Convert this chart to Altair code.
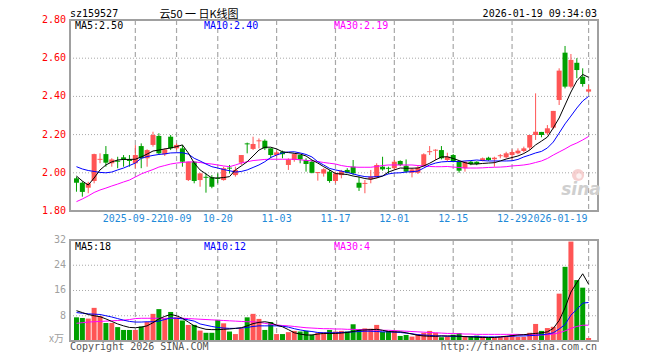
import altair as alt
import pandas as pd

# ---------------- data ----------------
opens = [1.971,1.948,1.922,1.957,2.068,2.098,2.050,2.063,2.081,2.070,
         2.050,2.140,2.076,2.146,2.193,2.097,2.189,2.128,2.128,1.962,
         2.058,1.962,1.979,1.977,1.973,1.962,2.027,1.988,2.053,2.154,
         2.125,2.165,2.168,2.128,2.093,2.110,2.041,2.067,2.093,2.067,
         2.058,1.999,1.997,2.006,1.957,1.988,2.015,2.032,1.948,1.942,
         1.966,1.976,2.032,2.026,2.024,2.062,2.037,2.000,2.000,2.036,
         2.108,2.116,2.119,2.067,2.093,2.058,2.024,2.058,2.058,2.063,
         2.079,2.071,2.087,2.081,2.093,2.102,2.114,2.132,2.198,2.214,
         2.207,2.236,2.381,2.629,2.451,2.576,2.503,2.425]
highs = [1.980,1.955,1.953,2.100,2.102,2.140,2.076,2.084,2.093,2.093,
         2.145,2.154,2.123,2.215,2.207,2.128,2.198,2.154,2.146,2.058,
         2.060,2.000,1.997,1.988,1.997,2.032,2.041,2.032,2.093,2.158,
         2.189,2.180,2.175,2.128,2.116,2.116,2.076,2.102,2.093,2.076,
         2.067,2.003,2.024,2.015,2.006,2.015,2.024,2.067,1.980,1.962,
         2.015,2.050,2.084,2.032,2.067,2.065,2.070,2.024,2.036,2.102,
         2.140,2.123,2.140,2.105,2.098,2.058,2.060,2.062,2.060,2.080,
         2.084,2.084,2.098,2.110,2.123,2.128,2.137,2.198,2.416,2.214,
         2.250,2.324,2.547,2.664,2.622,2.600,2.547,2.460]
lows = [1.901,1.875,1.893,1.945,2.050,2.032,2.032,2.024,2.032,2.032,
        2.024,2.024,2.032,2.137,2.093,2.088,2.119,2.119,2.032,1.957,
        1.945,1.927,1.896,1.919,1.945,1.959,1.997,1.980,2.041,2.102,
        2.119,2.128,2.119,2.076,2.084,2.076,2.015,2.058,2.050,2.006,
        1.997,1.959,1.980,1.948,1.945,1.971,1.997,1.988,1.905,1.893,
        1.945,1.971,2.011,1.994,2.015,2.035,2.000,1.976,1.994,2.032,
        2.093,2.067,2.070,2.058,2.055,2.000,2.006,2.040,2.040,2.060,
        2.063,2.032,2.076,2.076,2.070,2.097,2.107,2.119,2.172,2.186,
        2.198,2.228,2.355,2.442,2.442,2.495,2.451,2.419]
closes = [1.948,1.900,1.945,2.098,2.073,2.053,2.070,2.058,2.070,2.062,
          2.093,2.076,2.119,2.198,2.102,2.123,2.128,2.146,2.058,2.058,
          1.957,1.997,1.974,1.927,1.968,2.024,2.022,2.015,2.093,2.149,
          2.151,2.170,2.128,2.093,2.107,2.097,2.070,2.098,2.070,2.046,
          2.000,2.004,2.018,1.957,1.997,2.009,2.000,1.997,1.922,1.947,
          1.980,2.041,2.018,2.021,2.058,2.041,2.006,2.018,2.027,2.097,
          2.113,2.121,2.076,2.084,2.058,2.011,2.058,2.045,2.046,2.076,
          2.067,2.079,2.092,2.102,2.109,2.116,2.128,2.198,2.215,2.198,
          2.233,2.324,2.535,2.451,2.591,2.538,2.465,2.437]
ma5 = [1.983,1.957,1.936,1.973,2.015,2.041,2.057,2.067,2.070,2.070,
       2.071,2.083,2.098,2.114,2.119,2.125,2.130,2.137,2.146,2.104,
       2.051,2.015,1.994,1.973,1.973,1.975,1.980,2.015,2.036,2.058,
       2.088,2.119,2.134,2.134,2.125,2.110,2.106,2.102,2.098,2.088,
       2.067,2.051,2.032,2.015,1.996,1.994,1.991,1.983,1.978,1.970,
       1.966,1.973,1.983,2.004,2.015,2.025,2.024,2.024,2.025,2.036,
       2.050,2.067,2.083,2.084,2.075,2.064,2.053,2.046,2.046,2.049,
       2.051,2.053,2.062,2.072,2.080,2.088,2.101,2.119,2.146,2.166,
       2.187,2.235,2.287,2.355,2.423,2.481,2.515,2.500]
ma10 = [2.032,2.020,2.012,2.007,2.002,2.000,2.004,2.015,2.025,2.038,
        2.051,2.076,2.085,2.091,2.096,2.099,2.104,2.105,2.105,2.098,
        2.076,2.062,2.046,2.032,2.025,2.017,2.011,2.004,2.007,2.015,
        2.028,2.041,2.058,2.080,2.093,2.104,2.109,2.110,2.104,2.096,
        2.083,2.058,2.041,2.023,2.015,2.009,2.002,1.994,1.986,1.980,
        1.978,1.980,1.983,1.994,1.999,2.000,2.004,2.006,2.009,2.025,
        2.041,2.051,2.057,2.059,2.059,2.059,2.062,2.064,2.067,2.064,
        2.062,2.062,2.062,2.062,2.063,2.070,2.083,2.093,2.104,2.112,
        2.130,2.161,2.208,2.256,2.297,2.339,2.376,2.400]
ma30 = [1.849,1.863,1.879,1.897,1.910,1.920,1.931,1.941,1.952,1.962,
        1.978,1.994,2.006,2.017,2.030,2.038,2.046,2.051,2.054,2.057,
        2.057,2.054,2.049,2.046,2.041,2.036,2.032,2.041,2.051,2.058,
        2.064,2.067,2.070,2.071,2.071,2.071,2.071,2.071,2.068,2.065,
        2.063,2.059,2.054,2.050,2.046,2.038,2.033,2.030,2.029,2.029,
        2.029,2.033,2.038,2.041,2.041,2.041,2.041,2.041,2.038,2.036,
        2.033,2.032,2.032,2.033,2.030,2.028,2.025,2.025,2.025,2.026,
        2.028,2.029,2.030,2.032,2.036,2.038,2.041,2.046,2.054,2.062,
        2.075,2.093,2.109,2.125,2.143,2.156,2.172,2.190]
volumes = [7.5,7.3,7.1,10.5,7.9,5.7,5.7,4.4,3.5,3.5,
           3.5,4.6,6.0,8.6,10.1,7.2,9.2,7.5,6.5,5.1,
           5.1,3.3,2.6,2.6,6.7,5.6,3.0,2.2,4.0,7.5,
           8.6,7.0,3.5,6.0,2.2,2.2,2.8,3.2,3.0,3.2,
           2.0,2.6,2.7,3.5,3.0,3.2,3.0,5.3,3.5,4.0,
           3.9,5.1,2.9,3.2,3.2,1.6,1.9,1.4,2.2,2.6,
           3.2,2.6,1.2,1.4,2.0,2.5,1.5,1.4,1.7,1.5,
           1.2,1.1,1.3,1.5,2.0,1.3,1.3,2.6,5.4,3.2,
           4.1,4.5,15.0,23.5,31.5,19.3,16.9,0.95]
vma5 = [9.6,9.0,8.4,8.0,7.7,7.0,6.2,5.4,4.8,4.3,
        4.2,4.4,4.8,5.8,7.0,7.8,8.4,8.0,7.2,6.0,
        4.8,4.2,3.7,3.6,3.6,3.7,3.8,4.0,4.2,4.8,
        5.5,5.9,6.1,5.8,5.0,4.5,3.6,2.6,2.2,1.9,
        1.9,2.2,2.4,2.4,2.4,2.5,2.7,3.0,3.4,3.5,
        3.6,3.7,3.4,3.0,2.9,2.9,2.6,2.2,1.8,1.6,
        1.5,1.5,1.6,1.6,1.6,1.5,1.4,1.3,1.2,1.1,
        1.1,1.1,1.3,1.5,1.7,1.9,2.0,2.2,2.4,2.6,
        2.9,4.0,6.5,10.5,15.5,18.5,21.3,18.0]
vma10 = [9.0,8.8,8.6,8.5,8.4,8.0,7.6,7.1,6.6,6.2,
         6.0,6.0,6.1,6.1,6.3,6.8,7.3,7.2,7.0,6.7,
         6.3,5.4,5.0,4.6,4.3,4.1,4.0,4.0,4.1,4.3,
         4.6,4.8,4.8,4.8,4.8,4.7,4.4,3.9,3.5,3.2,
         3.0,2.7,2.6,2.6,2.6,2.7,2.8,2.9,3.0,3.1,
         3.1,3.0,2.9,2.9,2.8,2.7,2.5,2.3,2.0,1.9,
         1.8,1.6,1.6,1.5,1.5,1.5,1.4,1.4,1.4,1.3,
         1.3,1.3,1.3,1.4,1.5,1.6,1.6,1.7,1.8,2.0,
         2.2,2.6,3.8,5.2,8.2,10.0,12.0,12.2]
vma30 = [5.6,5.8,6.0,6.1,6.2,6.3,6.4,6.5,6.6,6.8,
         7.1,7.2,7.2,7.2,7.2,7.2,7.2,7.2,7.2,7.1,
         7.0,6.9,6.8,6.7,6.6,6.5,6.4,6.3,6.2,6.1,
         6.1,5.9,5.6,5.3,5.1,4.9,4.8,4.6,4.4,4.2,
         4.1,4.0,3.9,3.9,3.8,3.8,3.7,3.7,3.6,3.6,
         3.5,3.5,3.4,3.4,3.3,3.2,3.1,3.0,2.9,2.8,
         2.7,2.6,2.5,2.4,2.4,2.3,2.2,2.2,2.1,2.1,
         2.1,2.1,2.1,2.1,2.1,2.1,2.0,2.0,1.9,1.9,
         2.0,2.2,2.6,3.2,4.0,4.6,5.0,5.0]
label_idx = [10, 17, 24, 34, 44, 54, 64, 74, 87]
label_text = ["2025-09-22", "10-09", "10-20", "11-03", "11-17",
              "12-01", "12-15", "12-29", "2026-01-19"]
price_ticks = [2.80, 2.60, 2.40, 2.20, 2.00, 1.80]
price_grid = [2.60, 2.40, 2.20, 2.00]
vol_ticks = [32, 24, 16, 8]
vol_grid = [24, 16, 8]

# ---------------- layout ----------------
W, H = 528, 321
MONO = "DejaVu Sans Mono"
RED, GREEN = "#ff5555", "#00a000"
GRID = "#a8a8a8"
DATE_BLUE = "#1f8ad8"

n = len(closes)
df = pd.DataFrame({
    "i": list(range(n)), "open": opens, "high": highs, "low": lows, "close": closes,
    "ma5": ma5, "ma10": ma10, "ma30": ma30,
    "vol": volumes, "vma5": vma5, "vma10": vma10, "vma30": vma30,
})
df["dir"] = ["up" if c >= o else "down" for o, c in zip(opens, closes)]

xs = alt.Scale(domain=[-0.25, 87.75], nice=False, zero=False)
ps = alt.Scale(domain=[1.1194, 2.80], nice=False, zero=False)
vs = alt.Scale(domain=[0, 101.7], nice=False, zero=False)
X = alt.X("i:Q", scale=xs, axis=None)
col = alt.Color("dir:N", scale=alt.Scale(domain=["up", "down"], range=[RED, GREEN]), legend=None)

base = alt.Chart(df)

# grid
pgrid = alt.Chart(pd.DataFrame({"p": price_grid})).mark_rule(
    color=GRID, strokeDash=[1, 2], strokeWidth=1).encode(
    y=alt.Y("p:Q", scale=ps, axis=None), x=alt.value(0), x2=alt.value(W))
vgrid = alt.Chart(pd.DataFrame({"v": vol_grid})).mark_rule(
    color=GRID, strokeDash=[1, 2], strokeWidth=1).encode(
    y=alt.Y("v:Q", scale=vs, axis=None), x=alt.value(0), x2=alt.value(W))

vlines_df = pd.DataFrame({"idx": label_idx, "top": [2.80] * len(label_idx),
                          "bot": [1.80] * len(label_idx),
                          "vtop": [32] * len(label_idx), "vbot": [0] * len(label_idx)})
pvl = alt.Chart(vlines_df).mark_rule(color=GRID, strokeDash=[5, 3], strokeWidth=1.2).encode(
    x=alt.X("idx:Q", scale=xs, axis=None),
    y=alt.Y("top:Q", scale=ps, axis=None), y2="bot:Q")
vvl = alt.Chart(vlines_df).mark_rule(color=GRID, strokeDash=[5, 3], strokeWidth=1.2).encode(
    x=alt.X("idx:Q", scale=xs, axis=None),
    y=alt.Y("vtop:Q", scale=vs, axis=None), y2="vbot:Q")

# candles
wick = base.mark_rule(strokeWidth=1).encode(
    x=X, y=alt.Y("low:Q", scale=ps, axis=None), y2="high:Q", color=col)
body = base.mark_bar(size=5).encode(
    x=X, y=alt.Y("open:Q", scale=ps, axis=None), y2="close:Q", color=col)

def pline(field, color):
    return base.mark_line(strokeWidth=1, color=color).encode(
        x=X, y=alt.Y(f"{field}:Q", scale=ps, axis=None))

def vline(field, color):
    return base.mark_line(strokeWidth=1, color=color).encode(
        x=X, y=alt.Y(f"{field}:Q", scale=vs, axis=None))

vbars = base.mark_bar(size=5).encode(
    x=X, y=alt.Y("vol:Q", scale=vs, axis=None), color=col)

# borders
pborder = alt.Chart(pd.DataFrame({"t": [2.80], "b": [1.80]})).mark_rect(
    fill="transparent", stroke="#a0a0a0", strokeWidth=2).encode(
    x=alt.value(0), x2=alt.value(W), y=alt.Y("t:Q", scale=ps, axis=None), y2="b:Q")
vborder = alt.Chart(pd.DataFrame({"t": [32], "b": [0]})).mark_rect(
    fill="transparent", stroke="#a0a0a0", strokeWidth=2).encode(
    x=alt.value(0), x2=alt.value(W), y=alt.Y("t:Q", scale=vs, axis=None), y2="b:Q")

# axis labels
plab = alt.Chart(pd.DataFrame({"p": price_ticks, "s": [f"{v:.2f}" for v in price_ticks]})).mark_text(
    align="right", baseline="middle", font=MONO, fontSize=10, color="#ff0000", dx=-4).encode(
    x=alt.value(0), y=alt.Y("p:Q", scale=ps, axis=None), text="s:N")
vlab = alt.Chart(pd.DataFrame({"v": vol_ticks, "s": [str(v) for v in vol_ticks]})).mark_text(
    align="right", baseline="middle", font=MONO, fontSize=10, color="#a0a0a0", dx=-4).encode(
    x=alt.value(0), y=alt.Y("v:Q", scale=vs, axis=None), text="s:N")

dl = pd.DataFrame({"idx": label_idx, "s": label_text})
dlab_first = alt.Chart(dl.iloc[:1]).mark_text(
    align="center", baseline="middle", font=MONO, fontSize=10, color=DATE_BLUE, dx=-2.5).encode(
    x=alt.X("idx:Q", scale=xs, axis=None), y=alt.value(199), text="s:N")
dlab = alt.Chart(dl.iloc[1:-1]).mark_text(
    align="center", baseline="middle", font=MONO, fontSize=10, color=DATE_BLUE).encode(
    x=alt.X("idx:Q", scale=xs, axis=None), y=alt.value(199), text="s:N")
dlab_last = alt.Chart(dl.iloc[-1:]).mark_text(
    align="right", baseline="middle", font=MONO, fontSize=10, color=DATE_BLUE, dx=-1).encode(
    x=alt.X("idx:Q", scale=xs, axis=None), y=alt.value(199), text="s:N")

def txt(s, x, y, color="#000000", size=10, align="left", font=MONO, baseline="middle", **kw):
    return alt.Chart(pd.DataFrame({"s": [s]})).mark_text(
        align=align, baseline=baseline, font=font, fontSize=size, color=color, **kw).encode(
        x=alt.value(x), y=alt.value(y), text="s:N")

logo = alt.Chart(pd.DataFrame({"s": ["logo"]})).mark_point(
    shape="circle", size=150, filled=True, color="#f4c4c4", opacity=0.8).encode(
    x=alt.value(508), y=alt.value(155))
logo_eye = alt.Chart(pd.DataFrame({"s": ["eye"]})).mark_point(
    shape="circle", size=30, filled=True, color="#ffffff").encode(
    x=alt.value(509), y=alt.value(156))

texts = [
    txt("sz159527", 0, -6),
    txt("云50 一 日K线图", 129, -11, size=11, align="center", font="Noto Sans CJK SC",
        baseline="top"),
    txt("2026-01-19 09:34:03", 527, -6, align="right"),
    txt("MA5:2.50", 5, 6),
    txt("MA10:2.40", 134, 6, color="#0000ff"),
    txt("MA30:2.19", 264, 6, color="#ff00ff"),
    txt("MA5:18", 5, 227),
    txt("MA10:12", 134, 227, color="#0000ff"),
    txt("MA30:4", 264, 227, color="#ff00ff"),
    txt("x万", -6, 319, color="#a0a0a0", size=10, align="right", font="Noto Sans CJK SC"),
    txt("Copyright 2026 SINA.COM", 0, 327, color="#555555"),
    txt("http://finance.sina.com.cn", 527, 327, color="#555555", align="right"),
    txt("sina", 511, 170, color="#cfcfcf", size=17, align="center", font="DejaVu Sans",
        fontStyle="italic", fontWeight="bold"),
]

chart = alt.layer(
    pgrid, vgrid, pvl, vvl, logo, logo_eye,
    wick, body,
    pline("ma30", "#ff00ff"), pline("ma10", "#0000ff"), pline("ma5", "#000000"),
    vbars,
    vline("vma30", "#ff00ff"), vline("vma10", "#0000ff"), vline("vma5", "#000000"),
    pborder, vborder,
    plab, vlab, dlab_first, dlab, dlab_last,
    *texts,
).resolve_scale(y="independent").properties(
    width=W, height=H,
    autosize=alt.AutoSizeParams(type="none"),
    padding={"left": 62, "top": 12, "right": 54, "bottom": 11},
    background="white",
).configure_view(strokeWidth=0)

chart.save("out.html", embed_options={"renderer": "svg", "actions": False})
